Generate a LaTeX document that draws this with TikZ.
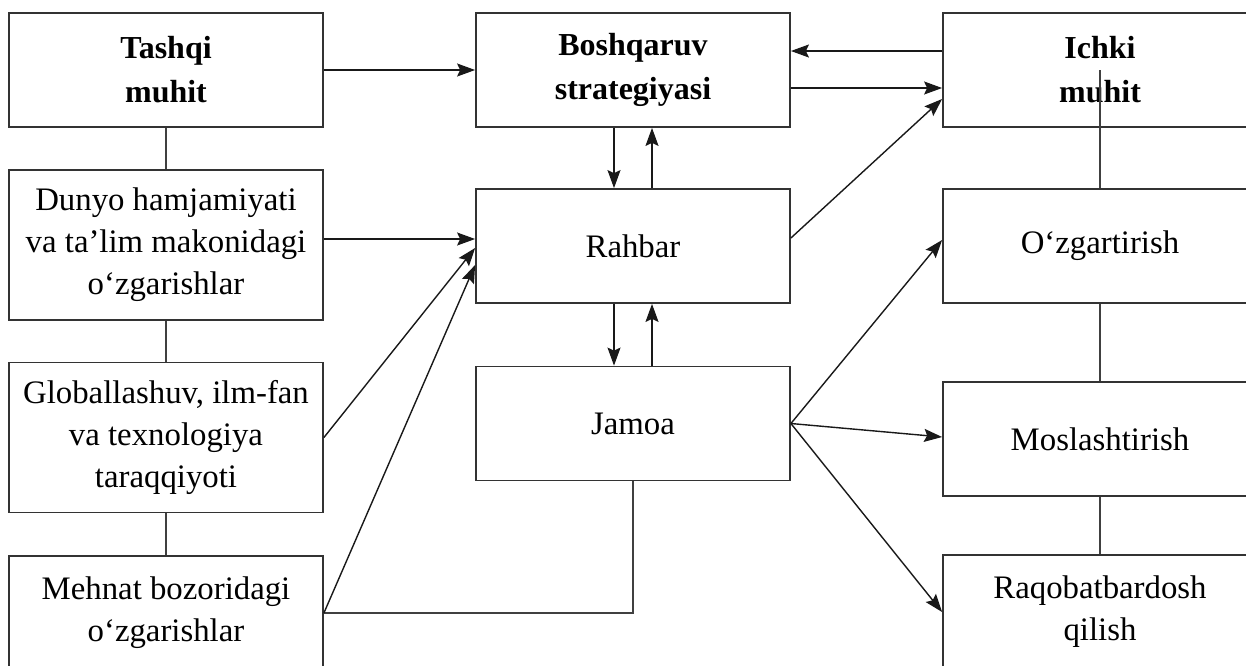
\documentclass[tikz,border=0pt]{standalone}
\usepackage{fontspec}
\setmainfont{Liberation Serif}
\usetikzlibrary{arrows.meta, calc}

\tikzset{
  box/.style={draw=black!80, line width=0.9pt, minimum width=157pt, minimum height=57pt,
    align=center, inner sep=0pt, font=\fontsize{16.4}{21}\selectfont},
  headbox/.style={box, font=\fontsize{16}{22}\selectfont\bfseries},
  tallbox/.style={box, minimum height=75pt},
  arr/.style={-{Stealth[length=9pt,width=6.5pt,inset=1.5pt]}, line width=0.7pt, black!90},
  link/.style={line width=0.8pt, black!75}
}

\begin{document}
\begin{tikzpicture}[x=0.5pt, y=-0.5pt]
    \useasboundingbox (0,0) rectangle (1246,665);
    \clip (0,0) rectangle (1246,665);

    % Top row
    \node[headbox] (tashqi) at (166,70) {Tashqi\\muhit};
    \node[headbox] (boshqaruv) at (633,70) {Boshqaruv\\strategiyasi};
    \node[headbox] (ichki) at (1100,70) {Ichki\\muhit};

    % Left column
    \node[tallbox] (dunyo) at (166,245) {Dunyo hamjamiyati\\va ta’lim makonidagi\\o‘zgarishlar};
    \node[tallbox] (global) at (166,437.5) {Globallashuv, ilm-fan\\va texnologiya\\taraqqiyoti};
    \node[box] (mehnat) at (166,613) {Mehnat bozoridagi\\o‘zgarishlar};

    % Middle column
    \node[box] (rahbar) at (633,246) {Rahbar};
    \node[box] (jamoa) at (633,423.5) {Jamoa};

    % Right column
    \node[box] (ozgar) at (1100,246) {O‘zgartirish};
    \node[box] (moslash) at (1100,439) {Moslashtirish};
    \node[box] (raqobat) at (1100,612) {Raqobatbardosh\\qilish};

    % Plain links
    \draw[link] (tashqi) -- (dunyo);
    \draw[link] (dunyo) -- (global);
    \draw[link] (global) -- (mehnat);
    \draw[link] (ichki.center) -- (ozgar.north);
    \draw[link] (ozgar) -- (moslash);
    \draw[link] (moslash) -- (raqobat);
    \draw[link] (mehnat.east) -| (jamoa.south);

    % Strategy arrows
    \draw[arr] (tashqi.east) -- (boshqaruv.west);
    \draw[arr] ($(ichki.west)+(0,-19)$) -- ($(boshqaruv.east)+(0,-19)$);
    \draw[arr] ($(boshqaruv.east)+(0,18)$) -- ($(ichki.west)+(0,18)$);
    \draw[arr] ($(rahbar.east)+(0,-8)$) -- ($(ichki.west)+(0,29)$);
    \draw[arr] ($(boshqaruv.south)+(-19,0)$) -- ($(rahbar.north)+(-19,0)$);
    \draw[arr] ($(rahbar.north)+(19,0)$) -- ($(boshqaruv.south)+(19,0)$);
    \draw[arr] ($(rahbar.south)+(-19,0)$) -- ($(jamoa.north)+(-19,0)$);
    \draw[arr] ($(jamoa.north)+(19,0)$) -- ($(rahbar.south)+(19,0)$);

    % Outside factors into Rahbar
    \draw[arr] ($(dunyo.east)+(0,-6)$) -- ($(rahbar.west)+(0,-7)$);
    \draw[arr] (global.east) -- ($(rahbar.west)+(0,2)$);
    \draw[arr] (mehnat.east) -- ($(rahbar.west)+(0,19)$);

    % Jamoa to inner changes
    \draw[arr] (jamoa.east) -- ($(ozgar.west)+(0,-6)$);
    \draw[arr] (jamoa.east) -- ($(moslash.west)+(0,-2)$);
    \draw[arr] (jamoa.east) -- (raqobat.west);
\end{tikzpicture}
\end{document}
